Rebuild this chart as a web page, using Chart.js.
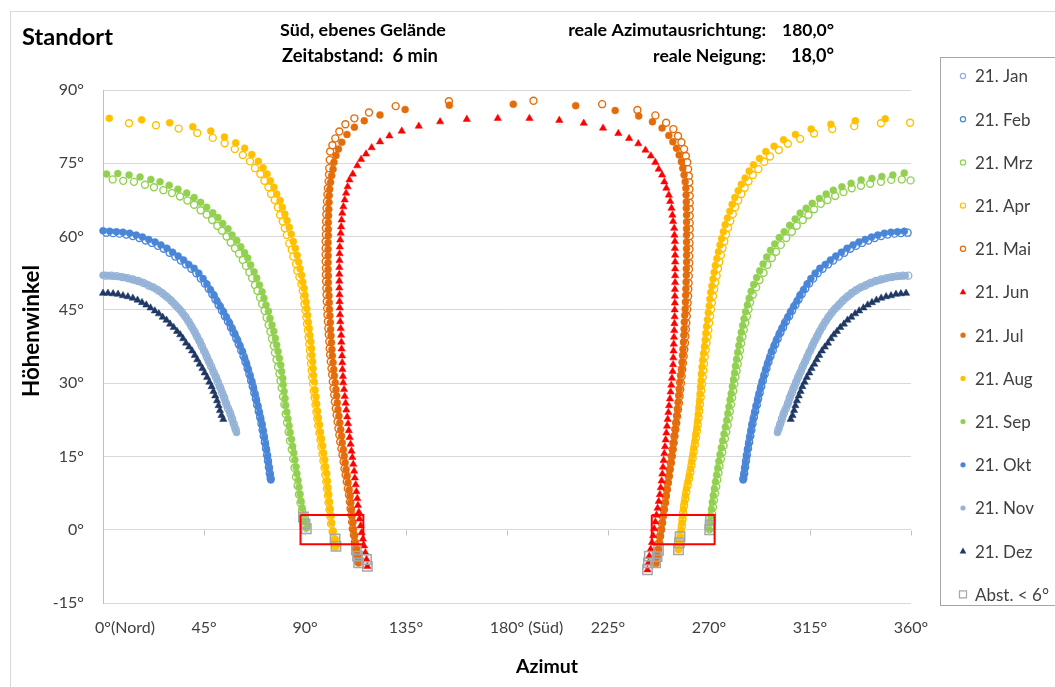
<!DOCTYPE html>
<html>
<head>
<meta charset="utf-8">
<script src="https://cdn.jsdelivr.net/npm/chart.js@4.4.1/dist/chart.umd.min.js"></script>
<style>
  html, body { margin: 0; padding: 0; background: #fff; }
  #wrap { width: 1055px; height: 687px; position: relative; overflow: hidden; }
</style>
</head>
<body>
<div id="wrap"><canvas id="c" width="1055" height="687"></canvas></div>
<script>
// Werte: [Azimut, Höhenwinkel]
const jan = [[1.2,52.0],[3.7,52.0],[6.1,51.9],[8.6,51.7],[11.0,51.5],[13.4,51.2],[15.7,50.9],[18.0,50.5],[20.3,50.0],[22.4,49.6],[24.5,49.0],[26.5,48.4],[28.4,47.7],[30.3,46.9],[32.0,46.1],[33.7,45.3],[35.2,44.5],[36.7,43.6],[38.1,42.6],[39.4,41.6],[40.7,40.6],[41.8,39.6],[43.0,38.6],[44.0,37.6],[45.1,36.5],[46.2,35.4],[47.2,34.4],[48.2,33.4],[49.3,32.2],[50.3,31.2],[51.2,30.2],[52.2,29.1],[53.1,28.0],[54.0,27.0],[54.8,25.9],[55.7,24.8],[56.7,23.8],[57.5,22.7],[58.3,21.6],[59.1,20.5],
  [300.9,20.5],[301.7,21.6],[302.5,22.7],[303.3,23.8],[304.3,24.8],[305.2,25.9],[306.0,27.0],[306.9,28.0],[307.8,29.1],[308.8,30.2],[309.7,31.2],[310.7,32.2],[311.8,33.4],[312.8,34.4],[313.8,35.4],[314.9,36.5],[316.0,37.6],[317.0,38.6],[318.2,39.6],[319.3,40.6],[320.6,41.6],[321.9,42.6],[323.3,43.6],[324.8,44.5],[326.3,45.3],[328.0,46.1],[329.7,46.9],[331.6,47.7],[333.5,48.4],[335.5,49.0],[337.6,49.6],[339.7,50.0],[342.0,50.5],[344.3,50.9],[346.6,51.2],[349.0,51.5],[351.4,51.7],[353.9,51.9],[356.3,52.0],[358.8,52.0]];

const feb = [[1.5,60.8],[4.5,60.7],[7.4,60.6],[10.4,60.4],[13.3,60.1],[16.2,59.7],[19.0,59.2],[21.8,58.7],[24.5,58.1],[27.1,57.5],[29.7,56.7],[32.2,55.9],[34.7,55.1],[37.0,54.3],[39.4,53.4],[41.6,52.5],[43.6,51.4],[45.4,50.4],[47.1,49.3],[48.7,48.2],[50.1,47.1],[51.5,46.0],[53.0,44.8],[54.3,43.7],[55.7,42.6],[57.0,41.4],[58.2,40.3],[59.4,39.1],[60.5,37.9],[61.6,36.7],[62.6,35.5],[63.5,34.3],[64.4,33.0],[65.2,31.8],[66.0,30.5],[66.7,29.3],[67.4,28.0],[68.1,26.8],[68.7,25.5],[69.4,24.2],[70.0,23.0],[70.6,21.7],[71.1,20.4],[71.6,19.2],[72.1,17.9],[72.6,16.6],[73.1,15.3],[73.5,14.1],[73.9,12.8],[74.3,11.5],[74.7,10.5],
  [285.3,10.5],[285.7,11.5],[286.1,12.8],[286.5,14.1],[286.9,15.3],[287.4,16.6],[287.9,17.9],[288.4,19.2],[288.9,20.4],[289.4,21.7],[290.0,23.0],[290.6,24.2],[291.3,25.5],[291.9,26.8],[292.6,28.0],[293.3,29.3],[294.0,30.5],[294.8,31.8],[295.6,33.0],[296.5,34.3],[297.4,35.5],[298.4,36.7],[299.5,37.9],[300.6,39.1],[301.8,40.3],[303.0,41.4],[304.3,42.6],[305.7,43.7],[307.0,44.8],[308.5,46.0],[309.9,47.1],[311.3,48.2],[312.9,49.3],[314.6,50.4],[316.4,51.4],[318.4,52.5],[320.6,53.4],[323.0,54.3],[325.3,55.1],[327.8,55.9],[330.3,56.7],[332.9,57.5],[335.5,58.1],[338.2,58.7],[341.0,59.2],[343.8,59.7],[346.7,60.1],[349.6,60.4],[352.6,60.6],[355.5,60.7],[358.5,60.8]];

const mrz = [[4.3,71.7],[9.0,71.4],[13.8,71.2],[18.7,70.6],[22.7,70.1],[26.9,69.5],[30.7,68.9],[34.3,68.2],[37.6,67.4],[40.6,66.5],[43.5,65.4],[46.2,64.5],[48.6,63.4],[50.9,62.2],[53.0,61.2],[55.1,60.0],[56.9,58.8],[58.8,57.6],[60.6,56.5],[62.3,55.2],[63.7,54.0],[65.2,52.7],[66.4,51.5],[67.7,50.1],[68.8,48.9],[70.0,47.5],[70.9,46.2],[72.0,44.8],[72.9,43.4],[73.8,41.9],[74.6,40.5],[75.3,39.1],[76.1,37.6],[76.6,36.2],[77.3,34.8],[78.0,33.3],[78.6,31.9],[79.1,30.5],[79.6,29.0],[80.2,27.2],[80.8,25.6],[81.4,23.7],[82.0,21.9],[82.7,20.0],[83.3,18.2],[84.1,16.4],[84.7,14.5],[85.3,12.7],[86.0,10.8],[86.7,9.0],[87.3,7.2],[88.0,5.5],[88.7,3.9],[89.3,2.5],[90.0,1.0],
  [270.6,0.4],[271.0,1.8],[271.4,3.2],[271.8,4.6],[272.2,6.0],[272.7,7.4],[273.2,8.8],[273.7,10.2],[274.2,11.6],[274.7,13.0],[275.3,14.4],[275.9,15.8],[276.5,17.2],[277.1,18.6],[277.7,20.0],[278.3,21.4],[278.8,22.8],[279.3,24.2],[279.8,25.6],[280.3,27.0],[280.8,28.4],[281.3,29.8],[281.8,31.2],[282.3,32.5],[282.8,33.9],[283.3,35.3],[283.8,36.7],[284.3,38.1],[284.9,39.5],[285.5,40.9],[286.2,42.3],[286.9,43.7],[287.6,45.1],[288.3,46.5],[289.5,48.1],[291.0,49.6],[292.5,51.1],[294.3,52.6],[296.0,54.2],[298.0,55.6],[299.9,56.9],[302.0,58.3],[304.4,59.7],[306.9,61.0],[309.1,62.2],[311.8,63.4],[314.3,64.4],[316.8,65.6],[319.8,66.7],[322.8,67.5],[326.2,68.3],[329.9,69.1],[333.6,69.9],[337.7,70.4],[341.8,70.8],[346.6,71.2],[351.2,71.6],[355.9,71.7],[359.8,71.5]];

const apr = [[11.6,83.2],[23.6,82.8],[33.7,82.1],[42.0,81.2],[48.9,80.2],[54.2,79.1],[58.7,77.9],[62.3,76.7],[65.5,75.4],[67.7,74.0],[70.1,72.8],[71.9,71.4],[73.7,70.1],[74.9,68.7],[76.5,67.5],[77.9,66.0],[78.9,64.4],[80.1,63.1],[81.0,61.7],[81.9,60.3],[83.0,58.6],[84.1,57.3],[84.8,55.9],[86.0,54.4],[86.6,53.0],[87.5,51.7],[88.4,50.3],[89.0,48.9],[89.6,47.6],[89.8,46.2],[90.2,44.9],[90.6,43.5],[90.9,42.1],[91.3,40.8],[91.6,39.4],[91.9,38.0],[92.2,36.7],[92.4,35.3],[92.7,34.0],[93.0,32.6],[93.2,31.2],[93.6,29.9],[93.9,28.4],[94.3,27.0],[94.7,25.6],[95.1,24.1],[95.5,22.7],[95.9,21.3],[96.4,19.8],[96.9,18.4],[97.3,17.0],[97.8,15.5],[98.2,14.1],[98.7,12.7],[99.1,11.2],[99.5,9.8],[99.8,8.4],[100.2,7.0],[100.5,5.5],[100.9,4.1],[101.3,2.7],[101.6,1.2],[102.3,-0.4],[103.2,-2.0],[103.6,-3.5],
  [256.6,-3.4],[257.0,-2.0],[257.4,-0.7],[257.9,0.7],[258.2,2.1],[258.5,3.5],[258.9,4.9],[259.4,6.3],[259.9,7.7],[260.5,9.1],[261.1,10.4],[261.7,11.8],[262.2,13.2],[262.7,14.6],[263.2,16.0],[263.7,17.4],[264.2,18.8],[264.6,20.1],[265.0,21.5],[265.4,22.9],[265.7,24.3],[266.0,25.7],[266.3,27.1],[266.6,28.5],[266.9,29.8],[267.2,31.2],[267.5,32.6],[267.8,34.0],[268.1,35.4],[268.5,36.8],[268.9,38.2],[269.3,39.5],[269.7,40.9],[270.1,42.3],[270.5,43.7],[270.9,45.1],[271.3,46.4],[271.8,47.8],[272.3,49.2],[272.8,50.6],[273.4,52.0],[274.0,53.4],[274.6,54.8],[275.3,56.2],[276.0,57.6],[276.8,59.0],[277.6,60.4],[278.5,61.8],[279.5,63.2],[280.6,64.6],[281.7,66.0],[283.0,67.4],[284.4,68.7],[285.9,70.0],[287.6,71.3],[289.5,72.6],[292.0,73.8],[294.6,75.3],[297.2,76.4],[301.1,77.7],[305.1,79.0],[310.6,80.0],[316.8,81.1],[324.9,82.0],[334.7,82.6],[346.6,83.2],[359.6,83.3]];

const mai = [[113.7,-6.6],[113.2,-5.2],[112.7,-3.9],[112.2,-2.5],[111.8,-1.1],[111.3,0.2],[111.0,1.6],[110.7,3.0],[110.3,4.3],[110.0,5.7],[109.6,7.1],[109.1,8.4],[108.6,9.8],[108.1,11.2],[107.6,12.5],[107.2,13.9],[106.7,15.3],[106.2,16.6],[105.7,18.0],[105.3,19.4],[104.9,20.7],[104.5,22.1],[104.1,23.5],[103.7,24.8],[103.3,26.2],[103.0,27.6],[102.7,28.9],[102.4,30.3],[102.1,31.7],[101.8,33.0],[101.5,34.4],[101.2,35.8],[101.0,37.1],[100.8,38.5],[100.6,39.9],[100.4,41.2],[100.2,42.6],[100.0,44.0],[99.9,45.3],[99.7,46.7],[99.6,48.1],[99.5,49.4],[99.4,50.8],[99.3,52.2],[99.3,53.5],[99.2,54.9],[99.2,56.3],[99.2,57.6],[99.2,59.0],[99.3,60.4],[99.3,61.7],[99.4,63.1],[99.5,64.5],[99.6,65.8],[99.8,67.2],[100.0,68.6],[100.2,69.9],[100.5,71.3],[100.7,72.7],[100.8,74.0],[101.0,75.7],[101.2,77.4],[102.2,78.7],[103.5,80.1],[105.3,81.5],[108.0,83.0],[112.0,84.2],[118.5,85.4],[130.4,86.7],[154.1,87.7],[191.8,87.8],[222.4,87.1],[238.1,85.9],[246.1,84.8],[250.9,83.3],[254.1,82.0],[256.2,80.6],[257.7,79.3],[258.9,77.9],[259.7,76.5],[260.3,75.2],[260.7,73.8],[261.0,72.4],[261.2,71.1],[261.3,69.7],[261.4,68.3],[261.4,66.9],[261.4,65.6],[261.4,64.2],[261.4,62.8],[261.4,61.5],[261.4,60.1],[261.3,58.7],[261.3,57.4],[261.2,56.0],[261.2,54.6],[261.1,53.3],[261.0,51.9],[260.9,50.5],[260.8,49.2],[260.7,47.8],[260.5,46.4],[260.3,45.1],[260.1,43.7],[259.9,42.3],[259.7,41.0],[259.5,39.6],[259.3,38.2],[259.0,36.9],[258.7,35.5],[258.4,34.1],[258.1,32.8],[257.8,31.4],[257.5,30.0],[257.2,28.7],[256.9,27.3],[256.6,25.9],[256.2,24.6],[255.8,23.2],[255.4,21.8],[255.0,20.5],[254.6,19.1],[254.2,17.7],[253.8,16.4],[253.4,15.0],[253.0,13.6],[252.5,12.3],[252.1,10.9],[251.6,9.5],[251.2,8.2],[250.7,6.8],[250.3,5.4],[249.8,4.1],[249.4,2.7],[249.0,1.3],[248.5,-0.1],[248.1,-1.4],[247.6,-2.8],[247.2,-4.2],[246.7,-5.5],[246.2,-6.9]];

const jun = [[117.8,-7.5],[117.4,-6.1],[116.9,-4.7],[116.3,-3.3],[115.8,-1.9],[115.2,-0.6],[114.8,0.8],[114.3,2.2],[114.0,3.6],[113.6,5.0],[113.3,6.4],[112.9,7.8],[112.6,9.2],[112.2,10.6],[111.9,12.0],[111.5,13.4],[111.1,14.8],[110.7,16.1],[110.3,17.5],[109.9,18.9],[109.5,20.3],[109.2,21.7],[108.8,23.1],[108.4,24.5],[108.1,25.9],[107.7,27.3],[107.4,28.7],[107.0,30.1],[106.9,31.4],[106.7,32.8],[106.6,34.2],[106.5,35.6],[106.3,37.0],[106.2,38.4],[106.1,39.8],[105.9,41.2],[105.7,42.6],[105.6,44.0],[105.5,45.4],[105.4,46.7],[105.4,48.1],[105.3,49.5],[105.3,50.9],[105.3,52.3],[105.3,53.7],[105.4,55.1],[105.4,56.5],[105.5,57.9],[105.7,59.3],[105.9,60.7],[106.1,62.0],[106.3,63.4],[106.6,64.8],[107.1,66.1],[107.7,67.5],[108.3,68.9],[109.0,70.2],[109.8,71.6],[111.3,72.8],[113.3,74.5],[115.0,75.8],[117.2,76.9],[119.7,78.2],[123.4,79.4],[127.6,80.6],[133.1,81.6],[140.7,82.6],[150.2,83.5],[162.1,84.0],[175.9,84.2],[190.0,84.2],[203.3,83.8],[214.2,83.2],[222.8,82.2],[229.6,81.1],[234.4,80.1],[238.5,79.0],[241.7,77.7],[244.1,76.5],[246.1,75.2],[247.6,73.8],[249.1,72.6],[250.1,71.2],[251.0,69.9],[252.1,68.5],[252.7,67.2],[253.3,65.8],[253.7,64.4],[254.0,63.1],[254.5,61.7],[254.6,60.3],[254.8,59.0],[254.8,57.6],[254.9,56.2],[254.9,54.8],[254.9,53.4],[254.9,52.0],[254.9,50.6],[254.8,49.2],[254.8,47.8],[254.8,46.4],[254.7,45.0],[254.7,43.6],[254.6,42.2],[254.5,40.8],[254.4,39.4],[254.3,38.0],[254.2,36.6],[254.1,35.2],[254.0,33.8],[253.8,32.4],[253.5,31.0],[253.2,29.6],[252.9,28.2],[252.6,26.8],[252.2,25.4],[251.9,24.0],[251.6,22.6],[251.3,21.2],[251.0,19.8],[250.7,18.4],[250.4,17.0],[250.1,15.6],[249.8,14.2],[249.5,12.8],[249.2,11.4],[248.9,10.0],[248.5,8.6],[248.1,7.2],[247.6,5.8],[247.1,4.4],[246.6,3.0],[246.1,1.6],[245.6,0.2],[245.1,-1.2],[244.6,-2.6],[244.0,-4.0],[243.4,-5.4],[243.0,-6.8],[242.6,-8.2]];

const jul = [[113.9,-6.8],[113.4,-5.4],[112.9,-4.1],[112.4,-2.7],[112.0,-1.3],[111.5,0.0],[111.3,1.4],[111.0,2.8],[110.7,4.1],[110.4,5.5],[110.1,6.9],[109.7,8.2],[109.2,9.6],[108.8,11.0],[108.3,12.3],[107.9,13.7],[107.5,15.1],[107.1,16.4],[106.6,17.8],[106.3,19.2],[105.9,20.5],[105.5,21.9],[105.1,23.3],[104.7,24.6],[104.4,26.0],[104.1,27.4],[103.8,28.7],[103.5,30.1],[103.1,31.5],[102.8,32.8],[102.5,34.2],[102.2,35.6],[102.0,36.9],[101.8,38.3],[101.6,39.7],[101.4,41.0],[101.3,42.4],[101.1,43.8],[100.9,45.1],[100.8,46.5],[100.7,47.9],[100.5,49.2],[100.4,50.6],[100.4,52.0],[100.3,53.3],[100.3,54.7],[100.3,56.1],[100.3,57.4],[100.3,58.8],[100.4,60.2],[100.4,61.5],[100.4,62.9],[100.5,64.3],[100.6,65.6],[100.7,67.0],[100.8,68.4],[101.0,69.7],[101.4,71.1],[101.9,72.5],[102.5,73.8],[102.9,75.2],[103.8,76.6],[104.9,77.9],[106.4,79.3],[108.7,80.9],[112.0,82.4],[116.4,83.7],[123.4,84.9],[134.6,86.0],[154.3,86.9],[182.8,87.1],[210.6,86.8],[228.2,85.8],[238.7,84.7],[244.8,83.5],[249.1,82.2],[252.1,80.7],[253.9,79.4],[255.5,78.1],[256.7,76.7],[257.7,75.3],[258.3,74.0],[258.9,72.6],[259.4,71.2],[259.7,69.9],[259.8,68.5],[259.9,67.1],[259.9,65.8],[260.0,64.4],[260.0,63.0],[260.0,61.6],[260.0,60.3],[260.0,58.9],[260.0,57.5],[260.0,56.2],[260.0,54.8],[259.9,53.4],[259.9,52.1],[259.8,50.7],[259.7,49.3],[259.6,48.0],[259.5,46.6],[259.4,45.2],[259.2,43.9],[259.0,42.5],[258.9,41.1],[258.8,39.8],[258.6,38.4],[258.4,37.0],[258.2,35.7],[258.0,34.3],[257.7,32.9],[257.3,31.6],[256.9,30.2],[256.7,28.8],[256.5,27.5],[256.2,26.1],[255.9,24.7],[255.6,23.4],[255.3,22.0],[255.0,20.6],[254.6,19.3],[254.3,17.9],[253.9,16.5],[253.5,15.2],[253.1,13.8],[252.6,12.4],[252.2,11.1],[251.8,9.7],[251.4,8.3],[251.0,7.0],[250.6,5.6],[250.1,4.2],[249.7,2.9],[249.3,1.5],[248.9,0.1],[248.4,-1.3],[248.0,-2.6],[247.6,-4.0],[247.1,-5.4],[246.3,-6.7]];

const aug = [[2.8,84.2],[17.2,83.9],[29.7,83.3],[40.0,82.5],[48.0,81.6],[54.1,80.4],[59.1,79.2],[63.1,78.1],[66.3,76.8],[69.2,75.4],[71.3,74.1],[73.1,72.8],[74.6,71.4],[76.2,70.1],[77.4,68.7],[78.9,67.4],[79.9,66.0],[81.0,64.6],[82.0,63.3],[83.0,61.9],[83.9,60.5],[84.8,59.0],[85.7,57.6],[86.5,56.2],[87.2,54.8],[87.8,53.4],[88.5,52.1],[89.0,50.7],[89.6,49.4],[90.0,48.0],[90.5,46.6],[90.8,45.3],[91.2,43.9],[91.5,42.5],[91.9,41.2],[92.2,39.8],[92.6,38.5],[92.9,37.1],[93.1,35.7],[93.4,34.4],[93.6,33.0],[93.8,31.6],[94.1,30.3],[94.5,28.6],[94.9,27.2],[95.2,25.8],[95.6,24.3],[96.0,22.9],[96.5,21.5],[96.9,20.0],[97.4,18.6],[97.9,17.2],[98.3,15.7],[98.8,14.3],[99.2,12.9],[99.7,11.5],[100.0,10.0],[100.3,8.6],[100.6,7.2],[100.9,5.7],[101.2,4.3],[101.6,2.9],[101.9,1.4],[102.5,-0.2],[103.4,-1.9],[103.8,-3.4],
  [256.4,-4.1],[256.8,-2.7],[257.1,-1.4],[257.6,0.0],[258.0,1.4],[258.3,2.8],[258.6,4.2],[259.0,5.6],[259.5,7.0],[260.0,8.4],[260.6,9.8],[261.2,11.1],[261.8,12.5],[262.3,13.9],[262.8,15.3],[263.2,16.7],[263.7,18.1],[264.1,19.5],[264.6,20.8],[264.9,22.2],[265.2,23.6],[265.5,25.0],[265.8,26.4],[266.0,27.8],[266.2,29.2],[266.5,30.5],[266.6,31.9],[266.9,33.3],[267.2,34.7],[267.6,36.1],[268.0,37.5],[268.3,38.9],[268.6,40.2],[268.9,41.6],[269.3,43.0],[269.7,44.4],[270.1,45.8],[270.4,47.2],[270.8,48.6],[271.3,49.9],[271.8,51.3],[272.3,52.7],[272.8,54.1],[273.5,55.5],[274.2,56.9],[274.9,58.3],[275.6,59.6],[276.4,61.0],[277.2,62.4],[278.2,63.8],[279.3,65.2],[280.3,66.6],[281.5,68.0],[283.0,69.4],[284.4,70.7],[286.1,72.0],[287.9,73.4],[289.8,74.7],[292.5,76.0],[295.3,77.4],[299.0,78.5],[303.2,79.8],[308.5,80.9],[315.5,82.0],[324.3,83.0],[335.2,83.7],[348.5,84.1]];

const sep = [[1.6,72.8],[6.6,72.9],[11.6,72.6],[16.5,72.2],[21.3,71.7],[25.4,71.2],[29.5,70.5],[33.4,69.7],[37.3,68.9],[40.6,68.0],[43.5,67.0],[46.2,66.0],[48.9,64.9],[51.2,63.9],[53.3,62.7],[55.7,61.6],[57.5,60.3],[59.6,59.2],[61.4,57.9],[63.1,56.7],[64.5,55.6],[65.8,54.2],[67.3,52.8],[68.5,51.5],[69.7,50.1],[70.9,48.7],[71.7,47.4],[72.6,46.0],[73.7,44.7],[74.4,43.3],[75.3,41.9],[76.1,40.6],[76.8,39.2],[77.4,37.8],[78.0,36.5],[78.6,35.1],[79.2,33.7],[79.6,32.4],[80.1,31.0],[80.3,29.7],[80.7,28.3],[81.1,26.9],[81.4,25.5],[81.9,24.1],[82.4,22.7],[82.9,21.3],[83.4,19.9],[84.0,18.5],[84.5,17.1],[85.0,15.7],[85.5,14.3],[86.0,12.9],[86.4,11.5],[86.9,10.1],[87.3,8.7],[87.8,7.3],[88.2,5.9],[88.7,4.5],[89.2,3.1],[89.8,1.7],[90.6,0.3],
  [270.2,0.0],[270.5,1.4],[270.8,2.8],[271.1,4.2],[271.5,5.6],[271.9,7.0],[272.4,8.4],[272.9,9.8],[273.4,11.2],[273.9,12.6],[274.4,14.0],[274.9,15.4],[275.5,16.8],[276.1,18.2],[276.7,19.6],[277.3,21.0],[277.9,22.4],[278.4,23.8],[278.9,25.2],[279.4,26.6],[279.9,27.9],[280.4,29.3],[280.9,30.7],[281.4,32.1],[281.8,33.5],[282.3,34.9],[282.8,36.3],[283.3,37.7],[283.8,39.0],[284.4,40.4],[285.0,41.8],[285.6,43.2],[286.3,44.6],[287.1,46.0],[287.9,47.4],[288.8,48.8],[289.9,50.2],[291.2,51.6],[292.6,53.0],[294.1,54.4],[295.7,55.8],[297.4,57.2],[299.3,58.5],[301.3,59.8],[303.5,61.0],[305.9,62.3],[308.4,63.6],[310.6,64.8],[313.3,65.8],[316.0,66.8],[319.2,67.8],[322.2,68.7],[325.4,69.5],[329.2,70.2],[333.3,70.9],[337.8,71.6],[342.6,71.9],[347.0,72.3],[351.9,72.6],[357.0,73.0]];

const okt = [[0.0,61.2],[3.0,61.1],[6.0,61.0],[8.9,60.9],[11.9,60.7],[14.8,60.3],[17.6,59.9],[20.4,59.4],[23.2,58.9],[25.8,58.3],[28.5,57.6],[31.0,56.8],[33.5,56.0],[35.9,55.2],[38.2,54.3],[40.6,53.5],[42.7,52.5],[44.6,51.4],[46.3,50.3],[47.9,49.1],[49.5,48.0],[50.8,46.8],[52.3,45.7],[53.7,44.6],[55.0,43.5],[56.4,42.3],[57.6,41.2],[58.8,40.0],[60.0,38.8],[61.1,37.6],[62.2,36.4],[63.1,35.1],[64.0,33.9],[64.8,32.7],[65.6,31.4],[66.4,30.2],[67.1,28.9],[67.8,27.7],[68.4,26.4],[69.1,25.2],[69.7,23.9],[70.3,22.6],[70.9,21.4],[71.4,20.1],[71.9,18.8],[72.4,17.5],[72.9,16.3],[73.3,15.0],[73.7,13.7],[74.1,12.5],[74.5,11.2],[74.8,10.2],
  [285.2,10.2],[285.5,11.2],[285.9,12.5],[286.3,13.7],[286.7,15.0],[287.1,16.3],[287.6,17.5],[288.1,18.8],[288.6,20.1],[289.1,21.4],[289.7,22.6],[290.3,23.9],[290.9,25.2],[291.6,26.4],[292.2,27.7],[292.9,28.9],[293.6,30.2],[294.4,31.4],[295.2,32.7],[296.0,33.9],[296.9,35.1],[297.8,36.4],[298.9,37.6],[300.0,38.8],[301.2,40.0],[302.4,41.2],[303.6,42.3],[305.0,43.5],[306.3,44.6],[307.7,45.7],[309.2,46.8],[310.5,48.0],[312.1,49.1],[313.7,50.3],[315.4,51.4],[317.3,52.5],[319.4,53.5],[321.8,54.3],[324.1,55.2],[326.5,56.0],[329.0,56.8],[331.5,57.6],[334.2,58.3],[336.8,58.9],[339.6,59.4],[342.4,59.9],[345.2,60.3],[348.1,60.7],[351.1,60.9],[354.0,61.0],[357.0,61.1]];

const nov = [[0.0,52.1],[2.5,52.0],[4.9,51.9],[7.4,51.8],[9.8,51.6],[12.2,51.3],[14.6,51.0],[16.9,50.7],[19.2,50.3],[21.4,49.8],[23.5,49.3],[25.6,48.7],[27.5,48.0],[29.4,47.3],[31.2,46.5],[32.9,45.7],[34.5,44.9],[36.0,44.0],[37.4,43.1],[38.8,42.1],[40.1,41.1],[41.3,40.1],[42.4,39.1],[43.5,38.1],[44.6,37.0],[45.7,36.0],[46.7,34.9],[47.7,33.9],[48.8,32.8],[49.8,31.7],[50.8,30.7],[51.7,29.6],[52.7,28.6],[53.6,27.5],[54.4,26.4],[55.2,25.4],[56.3,24.3],[57.1,23.2],[57.9,22.1],[58.7,21.0],[59.5,19.9],
  [300.5,19.9],[301.3,21.0],[302.1,22.1],[302.9,23.2],[303.7,24.3],[304.8,25.4],[305.6,26.4],[306.4,27.5],[307.3,28.6],[308.3,29.6],[309.2,30.7],[310.2,31.7],[311.2,32.8],[312.3,33.9],[313.3,34.9],[314.3,36.0],[315.4,37.0],[316.5,38.1],[317.6,39.1],[318.7,40.1],[319.9,41.1],[321.2,42.1],[322.6,43.1],[324.0,44.0],[325.5,44.9],[327.1,45.7],[328.8,46.5],[330.6,47.3],[332.5,48.0],[334.4,48.7],[336.5,49.3],[338.6,49.8],[340.8,50.3],[343.1,50.7],[345.4,51.0],[347.8,51.3],[350.2,51.6],[352.6,51.8],[355.1,51.9],[357.5,52.0]];

const dez = [[0.0,48.4],[2.2,48.4],[4.5,48.3],[6.7,48.2],[8.9,47.9],[11.1,47.7],[13.3,47.4],[15.4,47.0],[17.4,46.5],[19.3,46.0],[21.2,45.4],[23.1,44.8],[24.9,44.2],[26.6,43.5],[28.3,42.9],[29.9,42.1],[31.5,41.4],[33.0,40.6],[34.4,39.9],[35.7,39.1],[37.0,38.2],[38.4,37.4],[39.7,36.6],[40.9,35.7],[42.0,34.8],[43.1,33.9],[44.3,33.0],[45.3,32.1],[46.4,31.2],[47.4,30.2],[48.4,29.3],[49.2,28.3],[50.0,27.4],[50.8,26.4],[51.5,25.4],[52.1,24.4],[52.8,23.4],[53.6,22.6],
  [306.4,22.6],[307.2,23.4],[307.9,24.4],[308.5,25.4],[309.2,26.4],[310.0,27.4],[310.8,28.3],[311.6,29.3],[312.6,30.2],[313.6,31.2],[314.7,32.1],[315.7,33.0],[316.9,33.9],[318.0,34.8],[319.1,35.7],[320.3,36.6],[321.6,37.4],[323.0,38.2],[324.3,39.1],[325.6,39.9],[327.0,40.6],[328.5,41.4],[330.1,42.1],[331.7,42.9],[333.4,43.5],[335.1,44.2],[336.9,44.8],[338.8,45.4],[340.7,46.0],[342.6,46.5],[344.6,47.0],[346.7,47.4],[348.9,47.7],[351.1,47.9],[353.3,48.2],[355.5,48.3],[357.8,48.4]];

// Punkte mit Abstand < 6° (graue Quadrate)
const abst = [[89.3,2.6],[90.0,1.2],[90.6,0.2],[103.4,-1.9],[103.8,-3.4],[112.9,-4.1],[113.4,-5.4],[113.9,-6.8],[117.4,-6.1],[117.8,-7.5],
  [270.7,2.0],[270.5,1.0],[270.3,0.0],[257.1,-1.4],[256.8,-2.7],[256.4,-4.1],[247.5,-4.2],[246.9,-5.5],[246.2,-6.8],[243.4,-5.4],[243.0,-6.8],[242.6,-8.2]];

// rote Rahmen
const boxLeft = [[88,3],[116,3],[116,-3],[88,-3],[88,3]];
const boxRight = [[244.5,3],[272.5,3],[272.5,-3],[244.5,-3],[244.5,3]];

const seriesNames = ['21. Jan','21. Feb','21. Mrz','21. Apr','21. Mai','21. Jun','21. Jul','21. Aug','21. Sep','21. Okt','21. Nov','21. Dez'];
const seriesData = [jan, feb, mrz, apr, mai, jun, jul, aug, sep, okt, nov, dez];
const abstName = 'Abst. < 6°';

const yTicks = [-15, 0, 15, 30, 45, 60, 75, 90];
const xTicks = [0, 45, 90, 135, 180, 225, 270, 315, 360];
const xTickText = ['0°', '45°', '90°', '135°', '180°', '225°', '270°', '315°', '360°'];
const xTickSuffix = ['(Nord)', '', '', '', ' (Süd)', '', '', '', ''];

// Aussehen der Reihen
const styles = [
  { c: '#95B3D7', k: 'open' },
  { c: '#4A86D8', k: 'open' },
  { c: '#92D050', k: 'open' },
  { c: '#FFC000', k: 'open' },
  { c: '#E46C0A', k: 'open' },
  { c: '#FF0000', k: 'tri' },
  { c: '#E46C0A', k: 'fill' },
  { c: '#FFC000', k: 'fill' },
  { c: '#92D050', k: 'fill' },
  { c: '#4A86D8', k: 'fill' },
  { c: '#95B3D7', k: 'fill' },
  { c: '#1F3864', k: 'tri' }
];

const FONT = 'Lato, "Open Sans", "DejaVu Sans", sans-serif';

function toXY(arr) {
  return arr.map(p => ({ x: p[0], y: p[1] }));
}

var datasets = seriesData.map(function (d, i) {
  var s = styles[i];
  return {
    label: seriesNames[i],
    data: toXY(d),
    showLine: false,
    clip: false,
    pointStyle: s.k === 'tri' ? 'triangle' : 'circle',
    pointRadius: s.k === 'tri' ? 4.2 : 3.5,
    pointBackgroundColor: s.k === 'open' ? '#ffffff' : s.c,
    pointBorderColor: s.c,
    pointBorderWidth: s.k === 'open' ? 1.4 : 0.5,
    // gefüllte Punkte liegen oben (wie in Excel)
    order: s.k === 'open' ? 4 : 3
  };
});

datasets.push({
  label: abstName,
  data: toXY(abst),
  showLine: false,
  clip: false,
  pointStyle: 'rect',
  pointRadius: 6.6,
  pointBackgroundColor: 'rgba(0,0,0,0)',
  pointBorderColor: '#A6A6A6',
  pointBorderWidth: 1.5,
  order: 2
});

[boxLeft, boxRight].forEach(function (b) {
  datasets.push({
    label: 'box',
    data: toXY(b),
    showLine: true,
    fill: false,
    borderColor: '#FF0000',
    borderWidth: 2,
    pointRadius: 0,
    clip: false,
    order: 1
  });
});

// Text auf eine bestimmte Breite bringen
function fitText(ctx, text, x, y, width, size, bold, align) {
  const w0 = (bold ? 'bold ' : '');
  ctx.font = w0 + size + 'px ' + FONT;
  const w = ctx.measureText(text).width;
  const s = size * width / w;
  ctx.font = w0 + s.toFixed(2) + 'px ' + FONT;
  ctx.textAlign = align;
  ctx.fillText(text, x, y);
}

// Texte, Legende und Rahmen
const overlay = {
  id: 'overlay',
  beforeDraw(chart) {
    const ctx = chart.ctx;
    ctx.save();
    ctx.fillStyle = '#ffffff';
    ctx.fillRect(0, 0, chart.width, chart.height);
    ctx.strokeStyle = '#d9d9d9';
    ctx.lineWidth = 1;
    ctx.strokeRect(10.5, 11.5, 1100, 700);
    ctx.restore();
  },
  afterDraw(chart) {
    const ctx = chart.ctx;
    const xs = chart.scales.x, ys = chart.scales.y;
    ctx.save();

    // kleine Striche an der 0°-Linie
    const y0 = Math.round(ys.getPixelForValue(0)) + 0.5;
    ctx.strokeStyle = '#bfbfbf';
    ctx.lineWidth = 1;
    xTicks.forEach(function (v) {
      const px = Math.round(xs.getPixelForValue(v)) + 0.5;
      ctx.beginPath();
      ctx.moveTo(px, y0);
      ctx.lineTo(px, y0 + 5);
      ctx.stroke();
    });

    // y-Achse Beschriftung
    ctx.fillStyle = '#404040';
    ctx.font = '16px ' + FONT;
    ctx.textAlign = 'right';
    ctx.textBaseline = 'middle';
    yTicks.forEach(function (v) {
      ctx.fillText(v + '°', 84, ys.getPixelForValue(v));
    });

    // x-Achse Beschriftung
    xTicks.forEach(function (v, i) {
      const px = xs.getPixelForValue(v);
      const t = xTickText[i];
      const w = ctx.measureText(t).width;
      ctx.textAlign = 'left';
      ctx.fillText(t, px - w / 2, 628);
      if (xTickSuffix[i]) ctx.fillText(xTickSuffix[i], px + w / 2, 628);
    });

    // Achsentitel
    ctx.fillStyle = '#000000';
    fitText(ctx, 'Azimut', 547, 667, 62, 18, true, 'center');
    ctx.save();
    ctx.translate(32, 331);
    ctx.rotate(-Math.PI / 2);
    fitText(ctx, 'Höhenwinkel', 0, 0, 132, 18, true, 'center');
    ctx.restore();

    // Kopfzeilen
    fitText(ctx, 'Standort', 22, 37, 91, 20, true, 'left');
    fitText(ctx, 'Süd, ebenes Gelände', 363, 30, 166, 16, true, 'center');
    fitText(ctx, 'Zeitabstand:  6 min', 360, 56, 156, 16, true, 'center');
    fitText(ctx, 'reale Azimutausrichtung:', 766, 30, 198, 16, true, 'right');
    fitText(ctx, '180,0°', 834, 30, 52, 16, true, 'right');
    fitText(ctx, 'reale Neigung:', 766, 56, 113, 16, true, 'right');
    fitText(ctx, '18,0°', 834, 56, 43, 16, true, 'right');

    // Legende
    ctx.strokeStyle = '#a6a6a6';
    ctx.lineWidth = 1;
    ctx.strokeRect(940.5, 57.5, 200, 548);
    ctx.font = '17px ' + FONT;
    ctx.textAlign = 'left';
    ctx.fillStyle = '#404040';
    const names = seriesNames.concat([abstName]);
    names.forEach(function (n, i) {
      const cy = 76 + i * 43.2;
      const mx = 963;
      const s = i < styles.length ? styles[i] : { c: '#A6A6A6', k: 'sq' };
      ctx.save();
      ctx.beginPath();
      if (s.k === 'tri') {
        ctx.moveTo(mx, cy - 3.6);
        ctx.lineTo(mx + 3.3, cy + 2.2);
        ctx.lineTo(mx - 3.3, cy + 2.2);
        ctx.closePath();
        ctx.fillStyle = s.c;
        ctx.fill();
      } else if (s.k === 'sq') {
        ctx.rect(mx - 3.5, cy - 3.5, 7, 7);
        ctx.strokeStyle = s.c;
        ctx.lineWidth = 1.2;
        ctx.stroke();
      } else {
        ctx.arc(mx, cy, 2.6, 0, Math.PI * 2);
        if (s.k === 'open') {
          ctx.strokeStyle = s.c;
          ctx.lineWidth = 1.2;
          ctx.stroke();
        } else {
          ctx.fillStyle = s.c;
          ctx.fill();
        }
      }
      ctx.restore();
      ctx.fillText(n, 975, cy + 1);
    });

    ctx.restore();
  }
};

new Chart(document.getElementById('c'), {
  type: 'scatter',
  data: { datasets: datasets },
  options: {
    responsive: false,
    animation: false,
    events: [],
    layout: { padding: { left: 103, top: 90, right: 144, bottom: 84 } },
    plugins: { legend: { display: false }, tooltip: { enabled: false } },
    scales: {
      x: {
        type: 'linear', min: 0, max: 360,
        ticks: { display: false, stepSize: 45 },
        grid: { display: false, drawTicks: false },
        border: { display: false }
      },
      y: {
        type: 'linear', min: -15, max: 90,
        ticks: { display: false, stepSize: 15 },
        grid: { color: '#d9d9d9', lineWidth: 1, drawTicks: false },
        border: { display: true, color: '#bfbfbf', width: 1 }
      }
    }
  },
  plugins: [overlay]
});
</script>
</body>
</html>
